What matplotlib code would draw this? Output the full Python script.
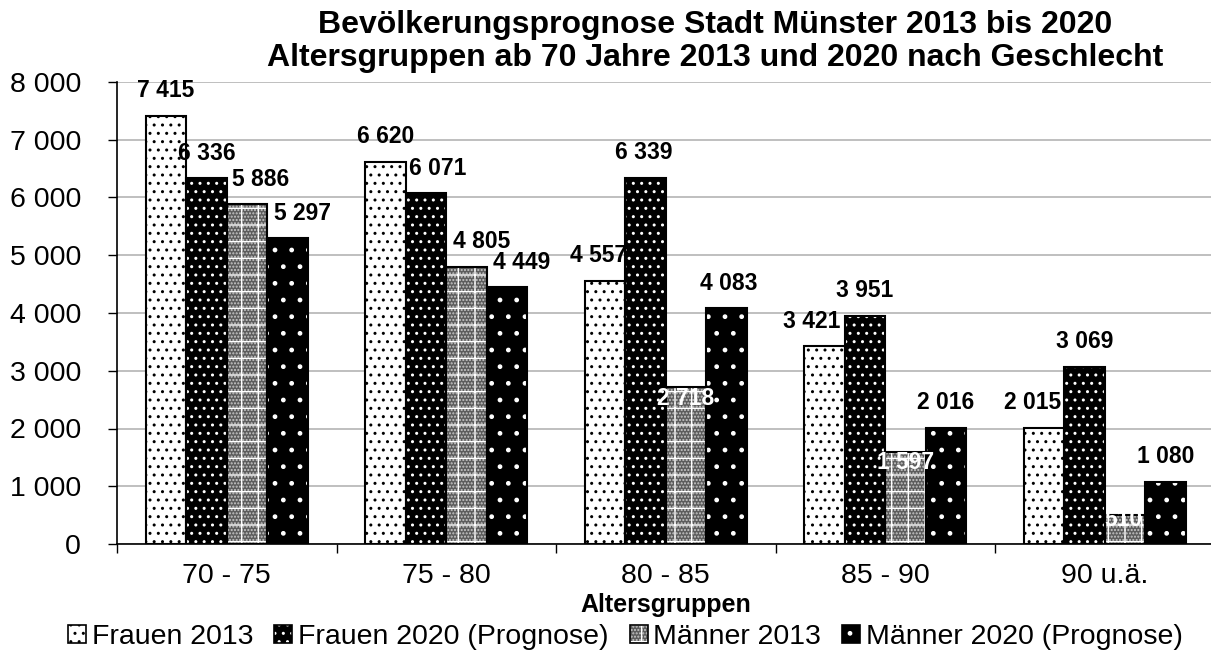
import matplotlib
matplotlib.use("Agg")
import matplotlib.pyplot as plt
from matplotlib.patches import Patch
import numpy as np

# ---------------- data ----------------
categories = ["70 - 75", "75 - 80", "80 - 85", "85 - 90", "90 u.ä."]
series_names = ["Frauen 2013", "Frauen 2020 (Prognose)", "Männer 2013", "Männer 2020 (Prognose)"]
frauen_2013 = [7415, 6620, 4557, 3421, 2015]
frauen_2020 = [6336, 6071, 6339, 3951, 3069]
maenner_2013 = [5886, 4805, 2718, 1597, 510]
maenner_2020 = [5297, 4449, 4083, 2016, 1080]
y_ticks = [0, 1000, 2000, 3000, 4000, 5000, 6000, 7000, 8000]
title_lines = ["Bevölkerungsprognose Stadt Münster 2013 bis 2020",
               "Altersgruppen ab 70 Jahre 2013 und 2020 nach Geschlecht"]
x_title = "Altersgruppen"

series_values = [frauen_2013, frauen_2020, maenner_2013, maenner_2020]

# ---------------- style ----------------
plt.rcParams['font.family'] = ['Liberation Sans', 'DejaVu Sans']
plt.rcParams['hatch.linewidth'] = 1.0

styles = [
    dict(face='white', layers=[('..', 'black')]),
    dict(face='black', layers=[('..', 'white')]),
    dict(face='#5c5c5c', layers=[('.....', '#c8c8c8'), ('+', 'white')]),
    dict(face='black', layers=[('.', 'white')]),
]
# label placement (pixel offsets from bar top centre) - layout only
label_dx = [
    [0, 0, -6, -13, -11],
    [0, 12, -2, 0, 0],
    [14, 15, 0, 0, -2],
    [15, 15, 2, 0, 0],
]
inside = [[False]*5, [False]*5, [False, False, True, True, True], [False]*5]
inside_dy = [0, 0, -11, -11, -5]

def fmt(v):
    return f"{v:,}".replace(",", " ")

W, H = 1211, 650
fig = plt.figure(figsize=(W/100, H/100), dpi=100)
ax_left, ax_right, ax_top, ax_bottom = 117, 1214.5, 82, 544
ax = fig.add_axes([ax_left/W, 1 - ax_bottom/H, (ax_right-ax_left)/W, (ax_bottom-ax_top)/H])

n_groups = len(categories)
bw = 40.5/219.5
xs = np.arange(n_groups)

for j, (vals, st) in enumerate(zip(series_values, styles)):
    x = xs + (j - 1.5)*bw
    ax.bar(x, vals, bw, color=st['face'], edgecolor='none', linewidth=0, zorder=2)
    for h, hc in st['layers']:
        ax.bar(x, vals, bw, color='none', edgecolor=hc, hatch=h, linewidth=0, zorder=3)
    ax.bar(x, vals, bw, fill=False, edgecolor='black', linewidth=1.5, zorder=4)
    for i, v in enumerate(vals):
        if inside[j][i]:
            ax.annotate(fmt(v), xy=(x[i], v), xytext=(label_dx[j][i], inside_dy[i]),
                        textcoords='offset pixels', ha='center', va='center',
                        fontsize=16.5, fontweight='bold', color='white', zorder=6)
        else:
            ax.annotate(fmt(v), xy=(x[i], v), xytext=(label_dx[j][i], 25),
                        textcoords='offset pixels', ha='center', va='center',
                        fontsize=16.5, fontweight='bold', color='black', zorder=6)

ax.set_xlim(-0.5, n_groups - 0.5)
ax.set_ylim(0, 8000)
ax.set_yticks(y_ticks)
ax.set_yticklabels([fmt(t) for t in y_ticks], fontsize=20.5)
ax.tick_params(axis='y', direction='out', length=6.5, width=1, pad=19.4, colors='black')
ax.yaxis.grid(True, color='#b4b4b4', linewidth=1.2)
ax.set_axisbelow(True)

ax.set_xticks(np.arange(n_groups + 1) - 0.5)
ax.set_xticklabels([])
ax.tick_params(axis='x', which='major', direction='out', length=6.5, width=1)
ax.set_xticks(xs, minor=True)
ax.set_xticklabels(categories, minor=True, fontsize=20.5)
ax.tick_params(axis='x', which='minor', length=0, pad=14)

for s in ['top', 'right']:
    ax.spines[s].set_visible(False)
for s in ['left', 'bottom']:
    ax.spines[s].set_color('black')
    ax.spines[s].set_linewidth(1.2)

fig.text((ax_left+ax_right)/2/W, 1 - 605/H, x_title, ha='center', va='center',
         fontsize=18, fontweight='bold')

fig.text(715/W, 1 - 33/H, title_lines[0], ha='center', va='baseline', fontsize=23, fontweight='bold')
fig.text(715/W, 1 - 66/H, title_lines[1], ha='center', va='baseline', fontsize=23, fontweight='bold')

handles = []
for st in styles:
    parts = [Patch(facecolor=st['face'], edgecolor='none', linewidth=0)]
    for h, hc in st['layers']:
        parts.append(Patch(facecolor='none', edgecolor=hc, hatch=h, linewidth=0))
    parts.append(Patch(fill=False, edgecolor='black', linewidth=1.2))
    handles.append(tuple(parts))

fig.legend(handles, series_names, loc='center', bbox_to_anchor=(625.5/W, 1 - 637/H),
           ncol=4, frameon=False, fontsize=20.5, handlelength=0.63, handleheight=0.63,
           handletextpad=0.2, columnspacing=0.74, borderpad=0, borderaxespad=0)

fig.savefig("out.png", dpi=100)
